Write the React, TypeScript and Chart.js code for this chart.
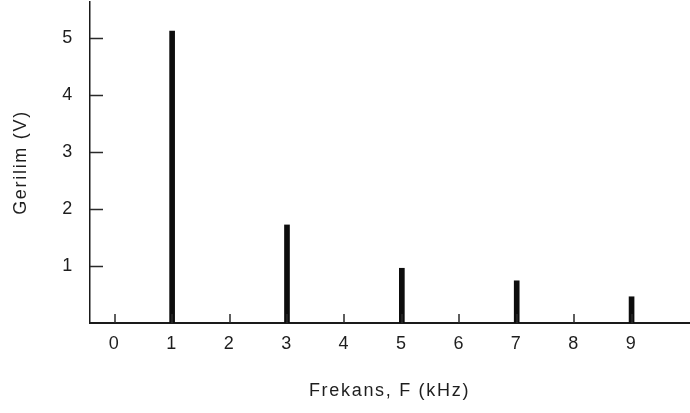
import React, { useEffect, useRef } from "react";
import { Chart, registerables } from "chart.js";

Chart.register(...registerables);

// ---- data ----
const frequencies = [1, 3, 5, 7, 9]; // kHz
const voltages = [5.12, 1.72, 0.96, 0.74, 0.46]; // V
const xTickValues = [0, 1, 2, 3, 4, 5, 6, 7, 8, 9];
const yTickValues = [1, 2, 3, 4, 5];
const xTitle = "Frekans, F (kHz)";
const yTitle = "Gerilim (V)";

const FONT = "'Liberation Sans', Arial, Helvetica, sans-serif";
const TEXT = "#1e1e1e";
const AXIS = "#1a1a1a";

const inwardTicks = {
  id: "inwardTicks",
  afterDraw(chart: any) {
    const { ctx, chartArea, scales } = chart;
    ctx.save();
    ctx.letterSpacing = "0px";
    ctx.strokeStyle = "#2a2a2a";
    ctx.lineWidth = 1.5;
    ctx.beginPath();
    for (const v of yTickValues) {
      const y = Math.round(scales.y.getPixelForValue(v)) + 0.5;
      ctx.moveTo(chartArea.left, y);
      ctx.lineTo(chartArea.left + 13, y);
    }
    for (const v of xTickValues) {
      const x = Math.round(scales.x.getPixelForValue(v));
      ctx.moveTo(x, chartArea.bottom);
      ctx.lineTo(x, chartArea.bottom - 9);
    }
    ctx.stroke();
    ctx.restore();
  },
};

const spacing = {
  id: "spacing",
  beforeDraw(chart: any) {
    chart.ctx.letterSpacing = "1.7px";
  },
  afterDraw(chart: any) {
    chart.ctx.letterSpacing = "0px";
  },
};

export default function App() {
  const ref = useRef<HTMLCanvasElement | null>(null);

  useEffect(() => {
    document.body.style.margin = "0";
    const canvas = ref.current;
    if (!canvas) return;
    const chart = new Chart(canvas, {
      type: "bar",
      data: {
        datasets: [
          {
            data: frequencies.map((f, i) => ({ x: f, y: voltages[i] })),
            backgroundColor: "#0d0d0d",
            borderWidth: 0,
            barThickness: 5,
          },
        ],
      },
      options: {
        responsive: false,
        animation: false,
        events: [],
        layout: { padding: { top: 2, right: 1, left: 0, bottom: 0 } },
        plugins: { legend: { display: false }, tooltip: { enabled: false } },
        scales: {
          x: {
            type: "linear",
            min: -0.43,
            max: 10,
            offset: false,
            grid: { display: false, drawTicks: false },
            border: { display: true, color: AXIS, width: 2 },
            afterBuildTicks: (s: any) => {
              s.ticks = xTickValues.map((v) => ({ value: v }));
            },
            ticks: {
              padding: 10,
              maxRotation: 0,
              autoSkip: false,
              color: TEXT,
              font: { family: FONT, size: 18 },
              callback: (v: any) => String(v),
            },
            title: {
              display: true,
              text: xTitle,
              color: TEXT,
              font: { family: FONT, size: 18 },
              padding: { top: 0, bottom: 11 },
            },
            afterFit: (s: any) => {
              s.height = 90;
              s.paddingLeft = 0;
              s.paddingRight = 0;
              s.paddingTop = 0;
              s.paddingBottom = 0;
            },
          },
          y: {
            type: "linear",
            min: 0,
            max: 5.63,
            grid: { display: false, drawTicks: false },
            border: { display: true, color: AXIS, width: 1.5 },
            afterBuildTicks: (s: any) => {
              s.ticks = yTickValues.map((v) => ({ value: v }));
            },
            ticks: {
              padding: 16,
              color: TEXT,
              font: { family: FONT, size: 18 },
              callback: (v: any) => String(v),
            },
            title: {
              display: true,
              text: yTitle,
              color: TEXT,
              font: { family: FONT, size: 18 },
              padding: { top: 10, bottom: 0 },
            },
            afterFit: (s: any) => {
              s.width = 90;
              s.paddingLeft = 0;
              s.paddingRight = 0;
              s.paddingTop = 0;
              s.paddingBottom = 0;
            },
          },
        },
      },
      plugins: [spacing, inwardTicks],
    } as any);
    return () => chart.destroy();
  }, []);

  return (
    <div style={{ width: 690, height: 413, background: "#fff" }}>
      <canvas ref={ref} width={690} height={413} style={{ display: "block" }} />
    </div>
  );
}
